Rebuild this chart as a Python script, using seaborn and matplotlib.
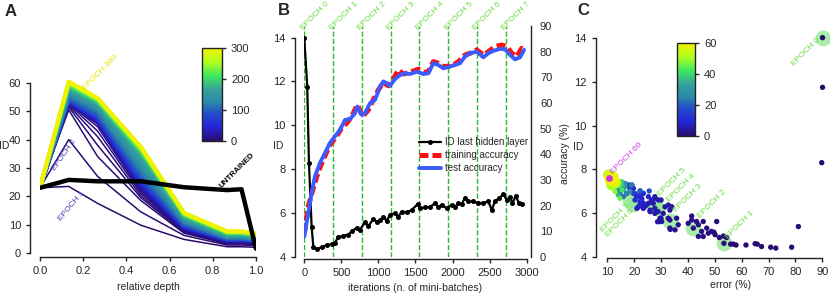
import numpy as np
import pandas as pd
import matplotlib
matplotlib.use("Agg")
import matplotlib.pyplot as plt
from matplotlib.colors import LinearSegmentedColormap, Normalize
from matplotlib.cm import ScalarMappable
import seaborn as sns

# ---------------- data ----------------
# A: ID profile of each layer vs relative depth
depth = [0.0, 0.133, 0.267, 0.467, 0.667, 0.867, 0.933, 1.0]
untrained_id = [23.0, 25.8, 25.3, 25.3, 23.2, 22.2, 22.5, 1.5]
a_epochs = [1, 2, 3, 4, 5, 6, 8, 10, 20, 50, 80, 100, 120, 140, 160,
            180, 200, 220, 240, 260, 280, 300]
a_profiles = [
    [23.0, 23.5, 17.5, 9.8, 4.8, 2.2, 2.2, 2.0],
    [23.0, 40.0, 27.0, 14.5, 6.2, 2.8, 2.8, 2.6],
    [23.0, 50.5, 34.0, 18.5, 7.0, 3.2, 3.2, 3.0],
    [23.0, 51.5, 38.0, 19.5, 7.3, 3.4, 3.4, 3.2],
    [23.0, 52.0, 41.0, 20.2, 7.6, 3.6, 3.6, 3.4],
    [23.0, 52.5, 43.0, 21.0, 7.8, 3.8, 3.8, 3.5],
    [23.0, 52.8, 44.5, 21.6, 8.0, 3.9, 3.9, 3.6],
    [23.0, 53.0, 45.5, 22.2, 8.2, 4.0, 4.0, 3.7],
    [23.0, 53.0, 46.0, 23.0, 8.5, 4.2, 4.2, 4.0],
    [23.0, 53.5, 47.0, 24.5, 9.0, 4.5, 4.5, 4.2],
    [23.0, 54.0, 48.0, 26.0, 9.6, 4.8, 4.8, 4.4],
    [23.0, 54.5, 49.0, 27.5, 10.2, 5.1, 5.1, 4.6],
    [23.0, 55.5, 50.0, 29.0, 10.8, 5.4, 5.4, 4.9],
    [23.0, 56.5, 51.0, 31.0, 11.5, 5.8, 5.8, 5.2],
    [23.0, 57.5, 52.0, 33.0, 12.2, 6.2, 6.2, 5.6],
    [23.0, 58.5, 53.0, 35.0, 12.9, 6.6, 6.6, 6.0],
    [23.0, 59.2, 53.6, 36.0, 13.4, 7.0, 7.0, 6.3],
    [23.0, 59.6, 54.0, 36.6, 13.7, 7.2, 7.2, 6.5],
    [23.0, 60.0, 54.3, 37.0, 13.9, 7.4, 7.4, 6.7],
    [23.0, 60.2, 54.5, 37.2, 14.0, 7.5, 7.5, 6.8],
    [23.0, 60.4, 54.6, 37.4, 14.1, 7.6, 7.6, 6.9],
    [23.0, 60.5, 54.6, 37.5, 14.2, 7.6, 7.6, 6.9],
]

# B: ID of last hidden layer and accuracies vs iterations
iters_per_epoch = 388
b_iter_id = [0, 40, 63, 99, 122, 167, 234, 302, 369, 414, 459, 527, 594, 639,
             707, 752, 819, 864, 931, 976, 1021, 1066, 1111, 1156, 1223, 1268,
             1313, 1381, 1448, 1529, 1560, 1628, 1695, 1763, 1808, 1853, 1920,
             1988, 2033, 2078, 2123, 2168, 2213, 2280, 2348, 2415, 2483, 2528,
             2573, 2627, 2686, 2731, 2776, 2807, 2852, 2897, 2942]
b_id = [14.0, 11.77, 8.30, 5.38, 4.47, 4.36, 4.44, 4.55, 4.58, 4.66, 4.90,
        4.97, 5.02, 5.17, 5.33, 5.25, 5.58, 5.39, 5.75, 5.60, 5.68, 5.83, 5.65,
        5.91, 5.99, 5.83, 6.07, 6.03, 6.14, 6.41, 6.22, 6.26, 6.29, 6.44, 6.29,
        6.37, 6.22, 6.37, 6.29, 6.44, 6.40, 6.71, 6.53, 6.53, 6.44, 6.47, 6.53,
        6.14, 6.56, 6.67, 6.87, 6.59, 6.74, 6.44, 6.79, 6.44, 6.40]
b_iter_train = [0, 54, 121, 189, 256, 346, 436, 504, 571, 639, 715, 787, 864,
                931, 999, 1066, 1133, 1201, 1268, 1336, 1426, 1538, 1606, 1673,
                1741, 1808, 1876, 1988, 2078, 2168, 2258, 2325, 2415, 2483,
                2573, 2663, 2730, 2798, 2865, 2933, 2964]
b_train = [9.3, 19.7, 26.8, 33.3, 37.9, 43.7, 47.0, 50.2, 52.1, 54.7, 59.3,
           54.7, 57.3, 61.2, 65.1, 68.0, 66.7, 69.3, 72.9, 71.3, 71.9, 73.2,
           71.9, 72.2, 76.1, 75.5, 74.2, 74.4, 76.1, 78.7, 79.6, 80.7, 78.7,
           80.0, 82.0, 82.6, 82.0, 79.4, 78.1, 81.3, 80.9]
b_iter_test = [0, 54, 99, 144, 211, 279, 346, 414, 481, 549, 616, 684, 715,
               774, 819, 886, 954, 1021, 1066, 1111, 1156, 1223, 1291, 1358,
               1426, 1516, 1606, 1673, 1741, 1808, 1876, 1966, 2033, 2101,
               2168, 2235, 2325, 2415, 2483, 2550, 2640, 2708, 2775, 2843,
               2910, 2964]
b_test = [8.0, 17.1, 24.9, 31.4, 36.6, 40.5, 44.4, 47.0, 49.5, 53.4, 53.7,
          56.0, 58.6, 55.4, 56.0, 59.9, 61.2, 66.4, 68.4, 67.7, 66.7, 69.3,
          70.9, 71.6, 71.3, 72.2, 71.3, 71.6, 75.5, 74.8, 73.5, 74.2, 74.8,
          75.5, 78.1, 79.4, 80.0, 77.8, 79.4, 80.3, 81.1, 80.9, 78.7, 77.0,
          77.8, 80.7]

# C: ID of last hidden layer vs test error, coloured by epoch
c_error = [90.1, 90.1, 89.8, 81.1, 78.6, 72.7, 70.8, 67.4, 65.8, 65.0, 61.6,
           57.9, 56.9, 55.9, 53.4, 54.4, 53.2, 51.7, 50.7, 50.1, 49.7, 48.8,
           47.6, 47.0, 45.7, 45.7, 45.1, 43.9, 43.9, 43.2, 42.0, 41.4, 41.4,
           40.1, 36.4, 35.8, 35.2, 33.4, 33.3, 33.3, 32.7, 30.2, 29.6, 29.4,
           30.0, 30.8, 28.7, 31.5, 32.7, 33.3, 34.0, 28.9, 27.7, 27.7, 27.7,
           27.1, 25.9, 30.0, 27.7, 29.0, 25.3, 25.9, 26.5, 25.3, 24.6, 24.0,
           23.4, 22.2, 21.6, 21.0, 22.2, 23.4, 22.8, 22.8, 22.2, 20.9, 21.5,
           20.3, 20.3, 19.7, 23.4, 22.2, 19.7, 19.1, 18.4, 18.4, 17.2, 17.8,
           15.3, 14.1, 14.7, 15.96, 17.2, 16.6, 16.0, 25.6, 22.2, 18.4, 19.1,
           14.7, 16.6, 15.96, 14.1, 15.3, 13.5, 12.9, 12.9, 11.6, 14.7, 15.4,
           12.2, 11.0, 10.4, 11.8, 12.5, 13.2, 11.3]
c_id = [14.0, 11.74, 8.31, 5.40, 4.46, 4.42, 4.46, 4.49, 4.60, 4.62, 4.56,
        4.56, 4.60, 4.60, 4.64, 4.90, 4.97, 4.90, 5.63, 5.03, 5.14, 5.18, 5.10,
        5.33, 5.63, 4.95, 5.18, 4.95, 5.48, 5.63, 5.33, 5.70, 5.88, 5.55, 5.48,
        5.78, 5.25, 5.27, 5.70, 5.33, 5.78, 5.63, 5.78, 5.63, 5.78, 6.00, 5.62,
        6.30, 6.38, 6.15, 6.30, 6.08, 6.00, 6.23, 6.69, 6.46, 6.15, 6.61, 6.76,
        6.61, 6.46, 6.08, 6.61, 6.76, 6.38, 6.31, 6.23, 6.53, 6.30, 6.23, 6.38,
        6.46, 6.68, 6.61, 6.83, 6.76, 6.76, 6.90, 6.61, 7.14, 6.91, 6.99, 6.91,
        7.30, 6.99, 7.14, 6.90, 7.30, 7.44, 7.07, 6.90, 6.76, 6.91, 7.37, 7.22,
        7.02, 7.03, 7.14, 7.29, 6.69, 7.22, 7.07, 6.84, 7.29, 7.22, 7.44, 7.00,
        7.29, 7.29, 7.06, 7.67, 7.52, 7.75, 7.50, 7.45, 7.40, 7.60]
c_epoch = [0, 0, 0, 0, 0, 0, 0, 0, 0, 0, 0, 0, 0, 1, 1, 1, 1, 1, 1, 1, 1, 1,
           1, 1, 1, 1, 2, 2, 2, 2, 2, 2, 2, 2, 3, 3, 3, 3, 3, 3, 3, 4, 4, 4, 4,
           4, 4, 4, 4, 4, 4, 5, 5, 5, 5, 5, 5, 5, 5, 5, 6, 6, 6, 8, 6, 7, 6, 8,
           6, 7, 8, 7, 7, 10, 8, 7, 11, 8, 12, 9, 9, 14, 15, 24, 26, 10, 10, 12,
           38, 20, 18, 22, 25, 28, 13, 18, 20, 16, 14, 45, 32, 30, 35, 36, 40,
           15, 48, 50, 40, 42, 58, 60, 55, 57, 59, 52, 53]
hl_epoch = [0, 1, 2, 3, 4, 5, 6, 7]
hl_error = [90.1, 53.4, 42.0, 33.3, 28.6, 27.7, 19.7, 18.4]
hl_id = [14.0, 4.64, 5.32, 5.67, 6.23, 6.43, 6.43, 6.61]
last_error = [10.8]
last_id = [7.6]

# ---------------- style ----------------
sns.set_style("ticks")
plt.rcParams["font.family"] = ["Liberation Sans", "DejaVu Sans"]
plt.rcParams.update({
    "font.size": 8, "axes.labelsize": 7.5, "xtick.labelsize": 8,
    "ytick.labelsize": 8, "axes.linewidth": 1.0, "xtick.major.size": 3,
    "ytick.major.size": 3, "xtick.major.width": 1.0, "ytick.major.width": 1.0,
    "axes.edgecolor": "#222222",
})

cmap = LinearSegmentedColormap.from_list("idmap", [
    (0.0, "#2a0b70"), (0.15, "#2424d8"), (0.3, "#2450c8"), (0.42, "#2a8aa8"),
    (0.55, "#35a09a"), (0.7, "#3ee860"), (0.85, "#b0ff20"), (1.0, "#f2f200")])

fig = plt.figure(figsize=(8.3, 2.93), dpi=100)

# ---------------- A ----------------
axA = fig.add_axes([0.0482, 0.1365, 0.2602, 0.5997])
rows = [(e, d, v) for e, prof in zip(a_epochs, a_profiles) for d, v in zip(depth, prof)]
dfA = pd.DataFrame(rows, columns=["epoch", "depth", "ID"])
sns.lineplot(data=dfA[dfA.epoch <= 10], x="depth", y="ID", hue="epoch",
             palette=cmap, hue_norm=(0, 300), estimator=None, errorbar=None,
             sort=False, legend=False, lw=1.1, ax=axA)
sns.lineplot(data=dfA[dfA.epoch > 10], x="depth", y="ID", hue="epoch",
             palette=cmap, hue_norm=(0, 300), estimator=None, errorbar=None,
             sort=False, legend=False, lw=2.8, ax=axA)
sns.lineplot(x=depth, y=untrained_id, color="black", lw=3.2, sort=False,
             estimator=None, errorbar=None, ax=axA)
axA.set_xlim(0, 1)
axA.set_ylim(0, 62)
axA.set_xticks([0, 0.2, 0.4, 0.6, 0.8, 1.0])
axA.set_yticks([0, 10, 20, 30, 40, 50, 60])
axA.set_xticklabels(["0.0", "0.2", "0.4", "0.6", "0.8", "1.0"])
sns.despine(ax=axA, offset={"left": 7.2, "bottom": 2.9}, trim=True)
axA.set_xlabel("relative depth")
axA.set_ylabel("ID", rotation=0, ha="center", va="center")
axA.yaxis.set_label_coords(-0.165, 0.61)
axA.text(0.278, 63.6, "EPOCH 300", color="#e6e600", fontsize=6, rotation=45,
         ha="center", va="center")
axA.text(0.111, 34.6, "EPOCH 2", color="#4a3ab8", fontsize=6, rotation=55,
         ha="center", va="center")
axA.text(0.148, 16.6, "EPOCH 1", color="#4a3ab8", fontsize=6, rotation=50,
         ha="center", va="center")
axA.text(0.912, 29.0, "UNTRAINED", color="black", fontsize=5.8, rotation=45,
         ha="center", va="center", weight="bold")

caxA = fig.add_axes([0.2434, 0.5188, 0.0241, 0.3174])
cbA = fig.colorbar(ScalarMappable(norm=Normalize(0, 300), cmap=cmap), cax=caxA)
cbA.set_ticks([0, 100, 200, 300])
cbA.outline.set_linewidth(1.0)

# ---------------- B ----------------
axB = fig.add_axes([0.3666, 0.1229, 0.2680, 0.7884])
axB2 = axB.twinx()
for k in range(8):
    axB.axvline(k * iters_per_epoch, color="#2db82d", ls="--", lw=1.0, zorder=0)
    axB.text(k * iters_per_epoch, 0.975, "EPOCH %d" % k, color="#66dd44",
             fontsize=6, rotation=45, rotation_mode="anchor", ha="left",
             va="bottom", transform=axB.get_xaxis_transform())
sns.lineplot(x=b_iter_id, y=b_id, color="black", lw=1.6, marker="o",
             markersize=3.6, markeredgewidth=0, estimator=None, errorbar=None,
             label="ID last hidden layer", ax=axB)
sns.lineplot(x=b_iter_train, y=b_train, color="#ff1010", lw=3.6,
             linestyle=(0, (1.8, 0.8)), estimator=None, errorbar=None,
             label="training accuracy", ax=axB2)
sns.lineplot(x=b_iter_test, y=b_test, color="#3a5cff", lw=2.8,
             estimator=None, errorbar=None, label="test accuracy", ax=axB2)
axB.set_xlim(0, 3000)
axB.set_ylim(4, 14.53)
axB2.set_ylim(0, 90)
axB.set_xticks([0, 500, 1000, 1500, 2000, 2500, 3000])
axB.set_yticks([4, 6, 8, 10, 12, 14])
axB2.set_yticks(range(0, 91, 10))
sns.despine(ax=axB, offset={"left": 6.7, "bottom": 1.2}, trim=True)
sns.despine(ax=axB2, left=True, bottom=True, top=True, right=False,
            offset={"right": 3.0}, trim=True)
axB.set_xlabel("iterations (n. of mini-batches)")
axB.set_ylabel("ID", rotation=0, ha="center", va="center")
axB.yaxis.set_label_coords(-0.118, 0.48)
axB2.set_ylabel("accuracy (%)")
axB2.yaxis.set_label_coords(1.15, 0.446)
h1, l1 = axB.get_legend_handles_labels()
h2, l2 = axB2.get_legend_handles_labels()
axB.get_legend().remove()
axB2.legend(h1 + h2, l1 + l2, loc="upper left", bbox_to_anchor=(0.5, 0.535),
            frameon=False, fontsize=7, handlelength=2.2, labelspacing=0.3,
            handletextpad=0.4, borderaxespad=0)

# ---------------- C ----------------
axC = fig.add_axes([0.7317, 0.1218, 0.2590, 0.7720])
sns.scatterplot(x=hl_error, y=hl_id, color="#8ee88e", s=130, alpha=0.75,
                linewidth=0, zorder=1, ax=axC)
dfC = pd.DataFrame({"error": c_error, "ID": c_id, "epoch": c_epoch})
dfC = dfC.sort_values("epoch", kind="stable")
sns.scatterplot(data=dfC[dfC.epoch < 50], x="error", y="ID", hue="epoch",
                palette=cmap, hue_norm=(0, 60), s=15, linewidth=0,
                legend=False, zorder=2, ax=axC)
sns.scatterplot(data=dfC[dfC.epoch >= 50], x="error", y="ID", hue="epoch",
                palette=cmap, hue_norm=(0, 60), s=60, linewidth=0,
                legend=False, zorder=3, ax=axC)
sns.scatterplot(x=last_error, y=last_id, color="#cc33dd", s=24, linewidth=0,
                zorder=4, ax=axC)
for coll in axC.collections:
    coll.set_clip_on(False)
axC.set_xlim(10, 90)
axC.set_ylim(4, 14.3)
axC.set_xticks(range(10, 91, 10))
axC.set_yticks([4, 6, 8, 10, 12, 14])
sns.despine(ax=axC, offset={"left": 8.4, "bottom": 0.8}, trim=True)
axC.set_xlabel("error (%)")
axC.xaxis.set_label_coords(0.575, -0.1)
axC.set_ylabel("ID", rotation=0, ha="center", va="center")
axC.yaxis.set_label_coords(-0.136, 0.488)

c_labels = [("EPOCH 0", 83.9, 13.35), ("EPOCH 1", 59.3, 5.47),
            ("EPOCH 2", 48.9, 6.43), ("EPOCH 3", 40.0, 6.70),
            ("EPOCH 4", 37.4, 7.16), ("EPOCH 5", 34.1, 7.43),
            ("EPOCH 7", 12.9, 5.79), ("EPOCH 6", 14.7, 5.56)]
for txt, xx, yy in c_labels:
    axC.text(xx, yy, txt, color="#66dd44", fontsize=6, rotation=45,
             ha="center", va="center")
axC.text(17.3, 8.52, "EPOCH 60", color="#cc44dd", fontsize=6, rotation=45,
         ha="center", va="center")

caxC = fig.add_axes([0.8153, 0.5369, 0.0220, 0.3174])
cbC = fig.colorbar(ScalarMappable(norm=Normalize(0, 60), cmap=cmap), cax=caxC)
cbC.set_ticks([0, 20, 40, 60])
cbC.outline.set_linewidth(1.0)

# panel letters
fig.text(0.006, 0.985, "A", fontsize=12, weight="bold", va="top")
fig.text(0.335, 0.99, "B", fontsize=12, weight="bold", va="top")
fig.text(0.696, 0.99, "C", fontsize=12, weight="bold", va="top")

fig.savefig("out.png", dpi=100)
